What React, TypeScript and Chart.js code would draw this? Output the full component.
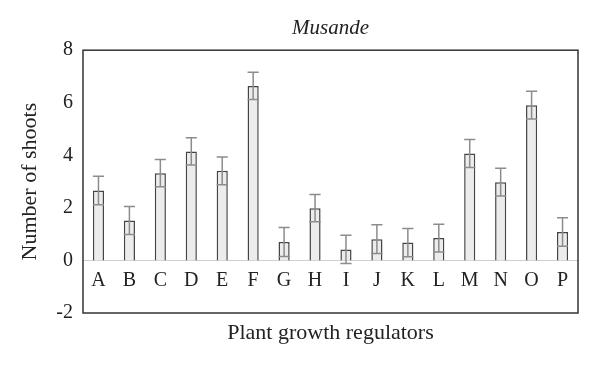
import React, { useEffect, useRef } from 'react';
import { Chart, registerables } from 'chart.js';

Chart.register(...registerables);

const categories = ['A', 'B', 'C', 'D', 'E', 'F', 'G', 'H', 'I', 'J', 'K', 'L', 'M', 'N', 'O', 'P'];
const shoots = [2.66, 1.52, 3.32, 4.15, 3.41, 6.64, 0.7, 1.99, 0.42, 0.81, 0.68, 0.85, 4.07, 2.98, 5.91, 1.08];
const errors = [0.54, 0.53, 0.52, 0.52, 0.53, 0.52, 0.55, 0.52, 0.54, 0.55, 0.54, 0.53, 0.53, 0.53, 0.53, 0.54];
const yMin = -2;
const yMax = 8;
const yStep = 2;
const chartTitle = 'Musande';
const xTitle = 'Plant growth regulators';
const yTitle = 'Number of shoots';

const FONT = "'Liberation Serif', 'Times New Roman', serif";
const TEXT = '#222222';

const errorBarPlugin = {
  id: 'errorBars',
  afterDatasetsDraw(chart: any) {
    const meta = chart.getDatasetMeta(0);
    const y = chart.scales.y;
    const ctx = chart.ctx;
    ctx.save();
    ctx.strokeStyle = '#8c8c8c';
    ctx.lineWidth = 1.5;
    meta.data.forEach((bar: any, i: number) => {
      const x = bar.x;
      const hi = y.getPixelForValue(shoots[i] + errors[i]);
      const lo = y.getPixelForValue(shoots[i] - errors[i]);
      const w = bar.width / 2;
      ctx.beginPath();
      ctx.moveTo(x, hi);
      ctx.lineTo(x, lo);
      ctx.moveTo(x - w, hi);
      ctx.lineTo(x + w, hi);
      ctx.moveTo(x - w, lo);
      ctx.lineTo(x + w, lo);
      ctx.stroke();
    });
    ctx.restore();
  },
};

const framePlugin = {
  id: 'frame',
  afterDraw(chart: any) {
    const { left, top, right, bottom } = chart.chartArea;
    const ctx = chart.ctx;
    ctx.save();
    ctx.strokeStyle = '#333333';
    ctx.lineWidth = 1.5;
    ctx.strokeRect(left, top, right - left, bottom - top);
    ctx.restore();
  },
};

export default function App() {
  const canvasRef = useRef<HTMLCanvasElement | null>(null);

  useEffect(() => {
    if (!canvasRef.current) return;
    const chart = new Chart(canvasRef.current, {
      type: 'bar',
      data: {
        labels: categories,
        datasets: [
          {
            data: shoots,
            backgroundColor: '#ececec',
            borderColor: '#444444',
            borderWidth: 1.5,
            barPercentage: 0.36,
            categoryPercentage: 1,
          },
        ],
      },
      options: {
        responsive: false,
        animation: false,
        layout: { padding: { left: 0, right: 22, top: 0, bottom: 0 } },
        plugins: {
          legend: { display: false },
          tooltip: { enabled: false },
          title: {
            display: true,
            fullSize: false,
            text: chartTitle,
            color: TEXT,
            font: { family: FONT, size: 21, style: 'italic', weight: 'normal' },
            padding: { top: 16, bottom: 9 },
          },
        },
        scales: {
          x: {
            type: 'category',
            position: { y: 0 } as any,
            grid: { display: false, drawTicks: false },
            border: { display: true, color: '#cfcfcf', width: 1 },
            ticks: { color: TEXT, font: { family: FONT, size: 20 }, padding: 8 },
          },
          x2: {
            type: 'category',
            position: 'bottom',
            grid: { display: false, drawTicks: false },
            border: { display: false },
            ticks: { display: false },
            title: {
              display: true,
              text: xTitle,
              color: TEXT,
              font: { family: FONT, size: 22 },
              padding: { top: 0, bottom: 21 },
            },
            afterFit: (axis: any) => {
              axis.height = 54;
            },
          },
          y: {
            min: yMin,
            max: yMax,
            position: 'left',
            grid: { display: false, drawTicks: false },
            border: { display: false },
            ticks: { stepSize: yStep, color: TEXT, font: { family: FONT, size: 20 }, padding: 10 },
            title: {
              display: true,
              text: yTitle,
              color: TEXT,
              font: { family: FONT, size: 22 },
              padding: { top: 17, bottom: 0 },
            },
            afterFit: (axis: any) => {
              axis.width = 83;
            },
          },
        },
      },
      plugins: [errorBarPlugin, framePlugin],
    });
    return () => chart.destroy();
  }, []);

  return (
    <div style={{ position: 'absolute', left: 0, top: 0, width: 600, height: 367, background: '#fff' }}>
      <canvas ref={canvasRef} width={600} height={367} style={{ display: 'block' }} />
    </div>
  );
}
